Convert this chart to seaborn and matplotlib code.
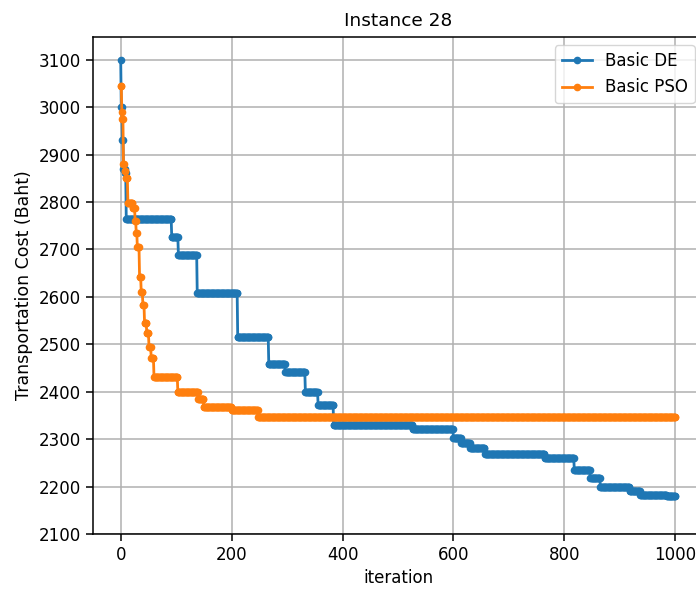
import numpy as np
import pandas as pd
import matplotlib
matplotlib.use("Agg")
import matplotlib.pyplot as plt
import seaborn as sns

# best-so-far cost, stored as (iteration where the value starts, value)
de_iter = [0, 1, 3, 5, 8, 10, 92, 104, 138, 211, 267, 297, 333, 356, 384,
           527, 600, 614, 630, 657, 765, 818, 847, 865, 918, 937, 985]
de_cost = [3100, 3000, 2930, 2870, 2862, 2765, 2727, 2689, 2608, 2516, 2459,
           2442, 2400, 2372, 2330, 2322, 2302, 2292, 2281, 2269, 2260, 2235,
           2218, 2200, 2190, 2183, 2180]

pso_iter = [0, 2, 3, 5, 7, 9, 13, 22, 26, 28, 30, 34, 37, 40, 43, 47, 51, 55,
            60, 103, 140, 150, 200, 248]
pso_cost = [3045, 2990, 2975, 2880, 2866, 2850, 2798, 2788, 2760, 2735, 2705,
            2642, 2610, 2583, 2545, 2524, 2495, 2471, 2432, 2400, 2385, 2368,
            2362, 2347]

labels = ["Basic DE", "Basic PSO"]
colors = ["#1f77b4", "#ff7f0e"]
n_iter = 1000


def expand(starts, values):
    it = np.arange(n_iter + 1)
    idx = np.searchsorted(starts, it, side="right") - 1
    return it, np.asarray(values)[idx]


frames = []
for name, starts, values in zip(labels, [de_iter, pso_iter], [de_cost, pso_cost]):
    it, cost = expand(starts, values)
    frames.append(pd.DataFrame({"iteration": it, "cost": cost, "algo": name}))
df = pd.concat(frames, ignore_index=True)

fig = plt.figure(figsize=(6.96, 5.94), dpi=100)
ax = fig.add_axes([0.1336, 0.101, 0.8764, 0.8367])

sns.lineplot(data=df, x="iteration", y="cost", hue="algo", estimator=None,
             palette=colors, marker=".", markersize=9, markeredgewidth=1,
             linewidth=2, legend=False, ax=ax)
# seaborn gives the markers a white edge; use the line colour instead
for line, c in zip(ax.lines, colors):
    line.set_markeredgecolor(c)
    line.set_markerfacecolor(c)

ax.set_xlim(-50, 1050)
ax.set_ylim(2100, 3148)
ax.set_xticks([0, 200, 400, 600, 800, 1000])
ax.set_yticks(np.arange(2100, 3101, 100))
ax.grid(True, color="#b0b0b0", linewidth=1.1)
ax.tick_params(labelsize=12, length=5, width=1.1)
for s in ax.spines.values():
    s.set_linewidth(1.1)
ax.set_title("Instance 28", fontsize=13.3, pad=8)
ax.set_xlabel("iteration", fontsize=12)
ax.set_ylabel("Transportation Cost (Baht)", fontsize=12.5)
ax.legend(ax.lines[:2], labels, loc="upper right", fontsize=12,
          handlelength=1.8)

fig.savefig("out.png", dpi=100)
